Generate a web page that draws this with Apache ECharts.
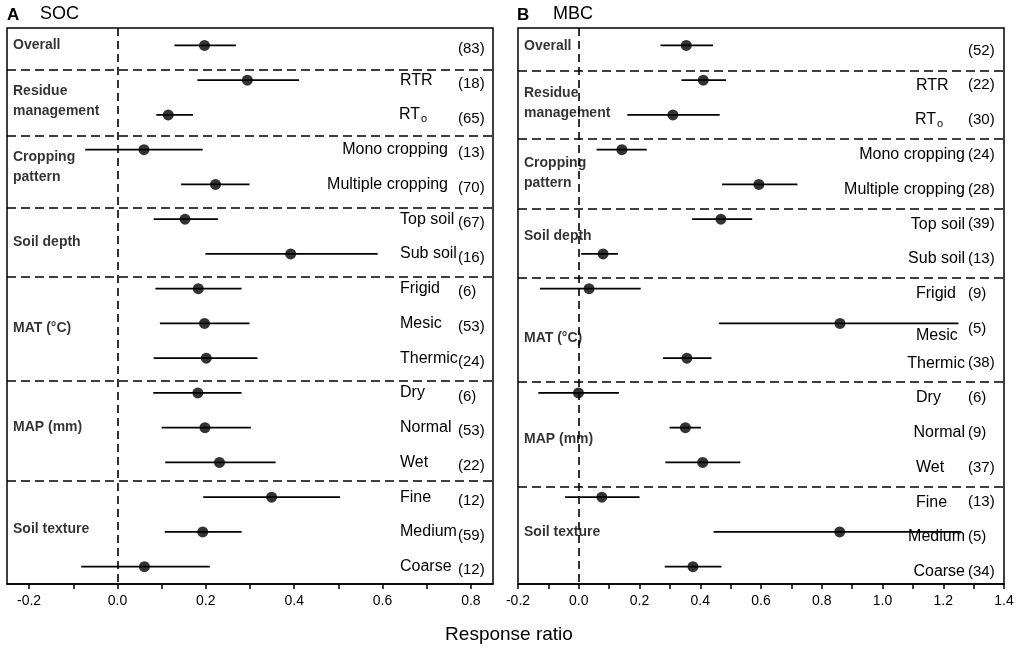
<!DOCTYPE html>
<html>
<head>
<meta charset="utf-8">
<script src="https://cdn.jsdelivr.net/npm/echarts@6/dist/echarts.min.js"></script>
<style>html,body{margin:0;padding:0;background:#fff}#c{width:1021px;height:651px}</style>
</head>
<body>
<div id="c"></div>
<script>
// ---------- data ----------
const rowNames = ['', 'RTR', 'RTo', 'Mono cropping', 'Multiple cropping', 'Top soil', 'Sub soil',
  'Frigid', 'Mesic', 'Thermic', 'Dry', 'Normal', 'Wet', 'Fine', 'Medium', 'Coarse'];
const groupNames = ['Overall', 'Residue\nmanagement', 'Cropping\npattern', 'Soil depth', 'MAT (°C)', 'MAP (mm)', 'Soil texture'];
const groupRows = [[0], [1, 2], [3, 4], [5, 6], [7, 8, 9], [10, 11, 12], [13, 14, 15]];

const socMean = [0.197, 0.294, 0.115, 0.060, 0.222, 0.153, 0.392, 0.183, 0.197, 0.201, 0.182, 0.198, 0.231, 0.349, 0.193, 0.061];
const socLow  = [0.129, 0.181, 0.088, -0.073, 0.144, 0.082, 0.199, 0.086, 0.096, 0.082, 0.081, 0.100, 0.108, 0.194, 0.107, -0.082];
const socHigh = [0.268, 0.411, 0.171, 0.193, 0.299, 0.228, 0.589, 0.281, 0.299, 0.317, 0.281, 0.302, 0.358, 0.504, 0.281, 0.209];
const socN    = [83, 18, 65, 13, 70, 67, 16, 6, 53, 24, 6, 53, 22, 12, 59, 12];

const mbcMean = [0.354, 0.410, 0.310, 0.142, 0.593, 0.468, 0.080, 0.034, 0.860, 0.356, -0.001, 0.351, 0.408, 0.076, 0.859, 0.376];
const mbcLow  = [0.269, 0.338, 0.160, 0.059, 0.472, 0.373, 0.008, -0.128, 0.461, 0.277, -0.133, 0.299, 0.285, -0.045, 0.444, 0.283];
const mbcHigh = [0.442, 0.485, 0.464, 0.224, 0.720, 0.571, 0.129, 0.204, 1.250, 0.437, 0.132, 0.402, 0.532, 0.200, 1.260, 0.470];
const mbcN    = [52, 22, 30, 24, 28, 39, 13, 9, 5, 38, 6, 9, 37, 13, 5, 34];

const socTickLabels = [-0.2, 0.0, 0.2, 0.4, 0.6, 0.8];
const socTickMarks  = [-0.2, -0.1, 0.0, 0.1, 0.2, 0.3, 0.4, 0.5, 0.6, 0.7, 0.8];
const mbcTickLabels = [-0.2, 0.0, 0.2, 0.4, 0.6, 0.8, 1.0, 1.2, 1.4];
const mbcTickMarks  = [-0.2, -0.1, 0.0, 0.1, 0.2, 0.3, 0.4, 0.5, 0.6, 0.7, 0.8, 0.9, 1.0, 1.1, 1.2, 1.3, 1.4];

// ---------- layout / style ----------
const FONT = '"Liberation Sans", Arial, Helvetica, sans-serif';
const measureCtx = document.createElement('canvas').getContext('2d');
measureCtx.font = '16px ' + FONT;
const textW = s => measureCtx.measureText(s).width;

const panels = [
  { letter: 'A', title: 'SOC', mean: socMean, low: socLow, high: socHigh, n: socN,
    tickLabels: socTickLabels, tickMarks: socTickMarks, xMin: -0.25, xMax: 0.85,
    left: 7, sepShift: [0.19, 0.10, 0.16, 0.16, 0.16, 0.02], groupNudge: [0, 4, 0, 6, 5, 0, -3],
    nameW: 58, fitW: 59, gapW: 10, ctW: 35, ctPad: 7, labelPad: 0, namePad: {},
    letterX: 7, titleX: 40 },
  { letter: 'B', title: 'MBC', mean: mbcMean, low: mbcLow, high: mbcHigh, n: mbcN,
    tickLabels: mbcTickLabels, tickMarks: mbcTickMarks, xMin: -0.2, xMax: 1.4,
    left: 518, sepShift: [0.245, 0.19, 0.19, 0.19, 0.19, 0.19], groupNudge: [1, 6, 6, 0, 15, 12, 0],
    nameW: 52, fitW: 49, gapW: 3, ctW: 36, ctPad: 0, labelPad: 10, namePad: { 8: 'nmD2', 14: 'nmD1' },
    letterX: 517, titleX: 553 }
];
const GRID_TOP = 28, GRID_H = 556, GRID_W = 486;

const grids = [], xAxes = [], yAxes = [], series = [], graphics = [];

panels.forEach((p, k) => {
  grids.push({ left: p.left, top: GRID_TOP, width: GRID_W, height: GRID_H, show: true,
    borderColor: '#000', borderWidth: 1.5, backgroundColor: 'transparent' });

  xAxes.push({
    type: 'value', gridIndex: k, min: p.xMin, max: p.xMax,
    axisLine: { show: true, onZero: false, lineStyle: { color: '#000', width: 1.5 } },
    axisTick: { show: true, customValues: p.tickMarks, length: 5, inside: false, lineStyle: { color: '#000', width: 1.5 } },
    axisLabel: { customValues: p.tickLabels, formatter: v => Number(v).toFixed(1), color: '#000',
      fontSize: 14, fontFamily: FONT, margin: 10 },
    splitLine: { show: false }
  });

  const base = { align: 'left', fontFamily: FONT, color: '#000' };
  const rich = {
    nm:   Object.assign({}, base, { width: p.nameW, fontSize: 16 }),
    nmD1: Object.assign({}, base, { width: p.nameW, fontSize: 16, padding: [6, 0, 0, 0] }),
    nmD2: Object.assign({}, base, { width: p.nameW, fontSize: 16, padding: [14, 0, 0, 0] }),
    nmL:  Object.assign({}, base, { fontSize: 16 }),
    gap:  Object.assign({}, base, { width: p.gapW, fontSize: 16 }),
    nmA:  Object.assign({}, base, { fontSize: 16 }),
    sub:  Object.assign({}, base, { width: p.nameW - 21, fontSize: 11, padding: [9, 0, 0, 1] }),
    ct:   Object.assign({}, base, { width: p.ctW, fontSize: 15, padding: [p.ctPad, 0, 0, 0] })
  };

  // category axis used only for the row labels (right side, drawn inside)
  yAxes.push({
    type: 'category', gridIndex: k, data: rowNames, inverse: true, position: 'right',
    axisLine: { show: false }, axisTick: { show: false }, splitLine: { show: false },
    axisLabel: {
      inside: true, margin: 0, align: 'right', interval: 0, padding: [p.labelPad, 0, 0, 0],
      rich: rich,
      formatter: (value, idx) => {
        const ct = '{ct|(' + p.n[idx] + ')}';
        if (value === 'RTo') return '{nmA|RT}{sub|o}' + ct;
        if (value && textW(value) > p.fitW) return '{nmL|' + value + '}{gap| }' + ct;
        const st = p.namePad[idx] || 'nm';
        return '{' + st + '|' + (value || ' ') + '}' + ct;
      }
    }
  });
  // value axis (row index) used for marks, separators and group labels
  yAxes.push({ type: 'value', gridIndex: k, min: -0.5, max: 15.5, inverse: true, show: false });

  const xi = k, yi = 2 * k + 1;
  const rows = rowNames.map((_, i) => i);

  // group labels + separators
  series.push({
    type: 'scatter', xAxisIndex: xi, yAxisIndex: yi, symbolSize: 0, silent: true, clip: false, z: 1,
    data: groupRows.map(g => [p.xMin, g.reduce((a, b) => a + b, 0) / g.length]),
    label: {
      show: true, position: 'right', distance: 6, color: '#000', fontFamily: FONT,
      fontSize: 14, fontWeight: 'bold', lineHeight: 20, align: 'left',
      formatter: prm => groupNames[prm.dataIndex]
    },
    labelLayout: prm => ({ dy: p.groupNudge[prm.dataIndex] }),
    markLine: {
      silent: true, symbol: ['none', 'none'], label: { show: false },
      lineStyle: { color: '#000', type: [9, 5], width: 1.6 },
      data: groupRows.slice(0, -1).map((g, j) => ({ yAxis: g[g.length - 1] + 0.5 + p.sepShift[j] }))
    }
  });

  // error bars
  series.push({
    type: 'custom', xAxisIndex: xi, yAxisIndex: yi, z: 2, silent: true,
    data: rows.map(i => [p.low[i], p.high[i], i]),
    encode: { x: [0, 1], y: 2 },
    renderItem: (params, api) => {
      const a = api.coord([api.value(0), api.value(2)]);
      const b = api.coord([api.value(1), api.value(2)]);
      return { type: 'line', shape: { x1: a[0], y1: a[1], x2: b[0], y2: b[1] },
        style: { stroke: '#000', lineWidth: 1.8 } };
    }
  });

  // mean points + zero line
  series.push({
    type: 'scatter', xAxisIndex: xi, yAxisIndex: yi, z: 3, silent: true,
    symbol: 'circle', symbolSize: 11, itemStyle: { color: '#000' },
    data: rows.map(i => [p.mean[i], i]),
    markLine: {
      silent: true, symbol: ['none', 'none'], label: { show: false }, z: 1,
      lineStyle: { color: '#000', type: [8, 5], width: 1.6 },
      data: [{ xAxis: 0 }]
    }
  });

  graphics.push({ type: 'text', x: p.letterX, y: 15, style: { text: p.letter, fontFamily: FONT,
    fontSize: 17, fontWeight: 'bold', fill: '#000', verticalAlign: 'middle', align: 'left' } });
  graphics.push({ type: 'text', x: p.titleX, y: 14, style: { text: p.title, fontFamily: FONT,
    fontSize: 18, fill: '#000', verticalAlign: 'middle', align: 'left' } });
});

graphics.push({ type: 'text', x: 509, y: 635, style: { text: 'Response ratio', fontFamily: FONT,
  fontSize: 19, fill: '#000', verticalAlign: 'middle', align: 'center' } });

const chart = echarts.init(document.getElementById('c'), null, { renderer: 'canvas' });
chart.setOption({
  backgroundColor: '#fff',
  animation: false,
  grid: grids,
  xAxis: xAxes,
  yAxis: yAxes,
  series: series,
  graphic: graphics
});
</script>
</body>
</html>
